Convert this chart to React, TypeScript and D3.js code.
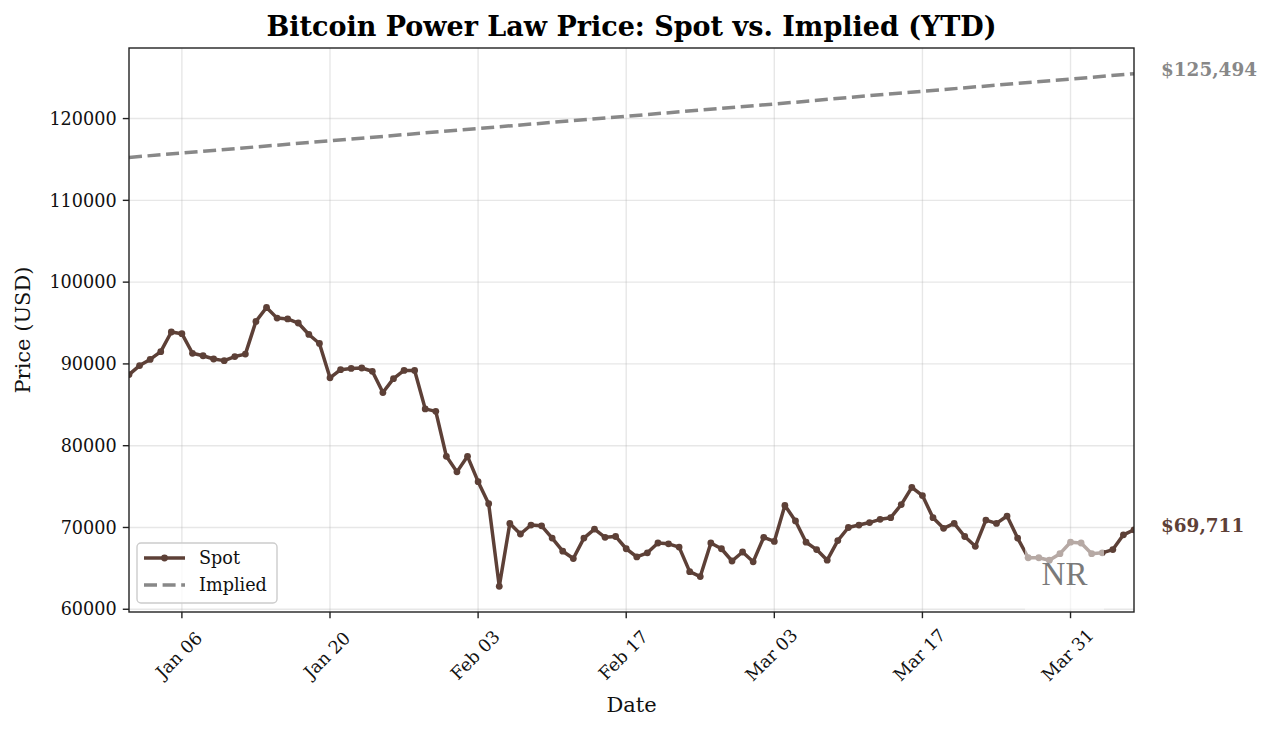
import React from "react";
import * as d3 from "d3";

// Spot close, one per day from Jan 01 to Apr 06
const spotStart = new Date(Date.UTC(2026, 0, 1));
const spotValues = [
  88700, 89800, 90550, 91500, 93900, 93700, 91300, 91000, 90600, 90400,
  90900, 91200, 95200, 96900, 95600, 95500, 95000, 93600, 92500, 88300,
  89300, 89450, 89500, 89100, 86500, 88200, 89200, 89200, 84500, 84200,
  78700, 76800, 78700, 75600, 72900, 62800, 70500, 69200, 70300, 70200,
  68700, 67100, 66200, 68700, 69800, 68800, 68900, 67400, 66400, 66900,
  68100, 68000, 67600, 64600, 64000, 68100, 67400, 65900, 67000, 65800,
  68800, 68300, 72700, 70800, 68200, 67300, 66000, 68400, 70000, 70300,
  70600, 71000, 71200, 72800, 74900, 73900, 71200, 69900, 70500, 68900,
  67700, 70900, 70500, 71400, 68700, 66300, 66300, 66000, 66800, 68200,
  68100, 66800, 66900, 67300, 69100, 69711,
];

// Implied power-law price
const impliedDates = [
  "2026-01-01", "2026-01-08", "2026-01-15", "2026-01-22", "2026-01-29",
  "2026-02-05", "2026-02-12", "2026-02-19", "2026-02-26", "2026-03-05",
  "2026-03-12", "2026-03-19", "2026-03-26", "2026-04-02", "2026-04-06",
];
const impliedValues = [
  115250, 116000, 116750, 117500, 118250, 119000, 119750, 120500, 121250,
  122000, 122800, 123550, 124300, 125050, 125494,
];

const xTickDates = ["2026-01-06", "2026-01-20", "2026-02-03", "2026-02-17", "2026-03-03", "2026-03-17", "2026-03-31"];
const yTicks = [60000, 70000, 80000, 90000, 100000, 110000, 120000];

const W = 1272;
const H = 731;
const margin = { left: 129, right: 138, top: 48, bottom: 119 };
const font = "'DejaVu Serif', serif";
const spotColor = "#5D4037";
const impliedColor = "#888888";

type Pt = { date: Date; value: number };

export default function App() {
  const spot: Pt[] = spotValues.map((v, i) => ({ date: d3.utcDay.offset(spotStart, i), value: v }));
  const implied: Pt[] = impliedDates.map((d, i) => ({ date: new Date(d + "T00:00:00Z"), value: impliedValues[i] }));

  const x = d3
    .scaleUtc()
    .domain([spot[0].date, spot[spot.length - 1].date])
    .range([margin.left, W - margin.right]);

  const all = [...spotValues, ...impliedValues];
  const lo = d3.min(all) as number;
  const hi = d3.max(all) as number;
  const pad = (hi - lo) * 0.05;
  const y = d3.scaleLinear().domain([lo - pad, hi + pad]).range([H - margin.bottom, margin.top]);

  const line = d3
    .line<Pt>()
    .x((d) => x(d.date))
    .y((d) => y(d.value));

  const x0 = margin.left;
  const x1 = W - margin.right;
  const y0 = H - margin.bottom;
  const y1 = margin.top;

  const lastSpot = spot[spot.length - 1];
  const lastImplied = implied[implied.length - 1];
  const fmt = d3.format("$,.0f");

  // watermark box (lower right of the axes)
  const wm = { x: 1025, y: 533, w: 79, h: 77 };

  return (
    <svg width={W} height={H} style={{ position: "absolute", left: 0, top: 0, background: "#fff" }} fontFamily={font}>
      <rect width={W} height={H} fill="#fff" />
      <defs>
        <clipPath id="plot">
          <rect x={x0} y={y1} width={x1 - x0} height={y0 - y1} />
        </clipPath>
      </defs>

      {/* grid */}
      {xTickDates.map((d) => {
        const px = x(new Date(d + "T00:00:00Z"));
        return <line key={d} x1={px} x2={px} y1={y1} y2={y0} stroke="#b0b0b0" strokeOpacity={0.3} strokeWidth={1.4} />;
      })}
      {yTicks.map((t) => (
        <line key={t} x1={x0} x2={x1} y1={y(t)} y2={y(t)} stroke="#b0b0b0" strokeOpacity={0.3} strokeWidth={1.4} />
      ))}

      <g clipPath="url(#plot)">
        <path d={line(implied) || ""} fill="none" stroke={impliedColor} strokeWidth={3.5} strokeDasharray="13,5.6" />
        <path d={line(spot) || ""} fill="none" stroke={spotColor} strokeWidth={3.5} strokeLinejoin="round" />
        {spot.map((p, i) => (
          <circle key={i} cx={x(p.date)} cy={y(p.value)} r={3.4} fill={spotColor} />
        ))}
        {/* watermark */}
        <rect x={wm.x} y={wm.y} width={wm.w} height={wm.h} fill="#ffffff" fillOpacity={0.55} />
        <text
          x={wm.x + wm.w / 2}
          y={wm.y + 52}
          textAnchor="middle"
          fontFamily="'Liberation Serif', serif"
          fontSize={33}
          fill="#7a7a7a"
        >
          NR
        </text>
      </g>

      {/* spines */}
      <rect x={x0} y={y1} width={x1 - x0} height={y0 - y1} fill="none" stroke="#222" strokeWidth={1.4} />

      {/* y ticks */}
      {yTicks.map((t) => (
        <g key={t}>
          <line x1={x0 - 6.2} x2={x0} y1={y(t)} y2={y(t)} stroke="#222" strokeWidth={1.4} />
          <text x={x0 - 12.4} y={y(t)} dy="0.35em" textAnchor="end" fontSize={17.6} fill="#111">
            {t}
          </text>
        </g>
      ))}

      {/* x ticks */}
      {xTickDates.map((d) => {
        const dt = new Date(d + "T00:00:00Z");
        const px = x(dt);
        return (
          <g key={d}>
            <line x1={px} x2={px} y1={y0} y2={y0 + 6.2} stroke="#222" strokeWidth={1.4} />
            <text
              transform={`translate(${px - 3},${y0 + 43}) rotate(-45)`}
              textAnchor="middle"
              dy="0.35em"
              fontSize={17.6}
              fill="#111"
            >
              {d3.utcFormat("%b %d")(dt)}
            </text>
          </g>
        );
      })}

      {/* labels */}
      <text x={(x0 + x1) / 2} y={36} textAnchor="middle" fontSize={27} fontWeight="bold" fill="#000">
        Bitcoin Power Law Price: Spot vs. Implied (YTD)
      </text>
      <text x={(x0 + x1) / 2} y={712} textAnchor="middle" fontSize={21} fill="#111">
        Date
      </text>
      <text transform={`translate(30,${(y0 + y1) / 2}) rotate(-90)`} textAnchor="middle" fontSize={21} fill="#111">
        Price (USD)
      </text>

      {/* end labels */}
      <text x={1161} y={y(lastImplied.value) - 4} dy="0.35em" fontSize={18.4} fontWeight="bold" fill={impliedColor}>
        {fmt(lastImplied.value)}
      </text>
      <text x={1161} y={y(lastSpot.value) - 4} dy="0.35em" fontSize={18.4} fontWeight="bold" fill={spotColor}>
        {fmt(lastSpot.value)}
      </text>

      {/* legend */}
      <g>
        <rect x={137} y={543} width={140} height={60} rx={4} fill="#fff" fillOpacity={0.8} stroke="#cccccc" strokeWidth={1.4} />
        <line x1={144} x2={185} y1={558} y2={558} stroke={spotColor} strokeWidth={3.5} />
        <circle cx={164.5} cy={558} r={3.4} fill={spotColor} />
        <text x={199} y={558} dy="0.35em" fontSize={17.6} fill="#111">
          Spot
        </text>
        <line x1={144} x2={185} y1={585} y2={585} stroke={impliedColor} strokeWidth={3.5} strokeDasharray="13,5.6" />
        <text x={199} y={585} dy="0.35em" fontSize={17.6} fill="#111">
          Implied
        </text>
      </g>
    </svg>
  );
}
